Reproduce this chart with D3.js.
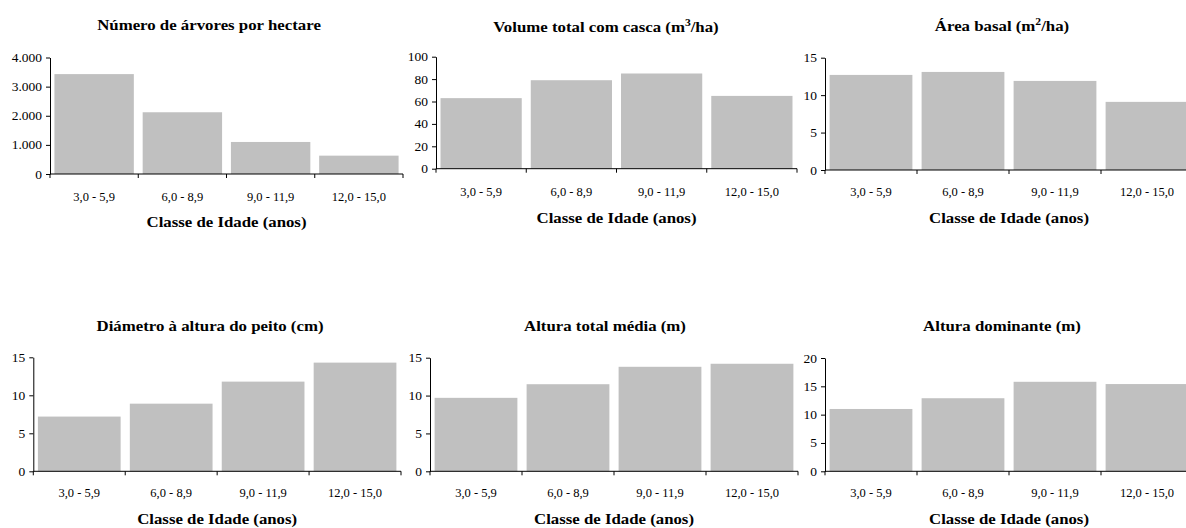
<!DOCTYPE html>
<html>
<head>
<meta charset="utf-8">
<script src="https://cdn.jsdelivr.net/npm/d3@7"></script>
<style>
  html, body { margin: 0; padding: 0; background: #fff; }
  svg { display: block; }
  text { font-family: "Liberation Serif", "Times New Roman", serif; fill: #000; }
</style>
</head>
<body>
<svg id="chart" width="1186" height="528"></svg>
<script>
// Age classes shared by all six panels
const categories = ["3,0 - 5,9", "6,0 - 8,9", "9,0 - 11,9", "12,0 - 15,0"];

// Values per age class for each stand variable
const treesPerHa   = [3430, 2120, 1100, 630];
const volumeWithBark = [63, 79, 85, 65];
const basalArea    = [12.7, 13.1, 11.9, 9.1];
const dbh          = [7.2, 8.9, 11.8, 14.3];
const meanHeight   = [9.7, 11.5, 13.8, 14.2];
const dominantHeight = [11.0, 12.9, 15.8, 15.4];

// Y-axis tick values for each panel
const ticksTrees  = [0, 1000, 2000, 3000, 4000];
const ticksVolume = [0, 20, 40, 60, 80, 100];
const ticks15     = [0, 5, 10, 15];
const ticks20     = [0, 5, 10, 15, 20];

const xTitle = "Classe de Idade (anos)";

const ptBR = d3.formatLocale({ decimal: ",", thousands: ".", grouping: [3], currency: ["R$", ""] });
const fmtThousands = ptBR.format(",d");
const fmtPlain = d3.format("d");

// Panel definitions: title pieces (superscripts flagged), data, axis, frame
const panels = [
  { title: [["Número de árvores por hectare"]], values: treesPerHa, ticks: ticksTrees, fmt: fmtThousands,
    x0: 50, x1: 403, yTop: 57.5, yBase: 174, titleX: 209, titleY: 30, labelY: 201, xTitleY: 227 },
  { title: [["Volume total com casca (m"], ["3", true], ["/ha)"]], values: volumeWithBark, ticks: ticksVolume, fmt: fmtPlain,
    x0: 436, x1: 797, yTop: 56.7, yBase: 168.7, titleX: 606, titleY: 32, labelY: 196, xTitleY: 223 },
  { title: [["Área basal (m"], ["2", true], ["/ha)"]], values: basalArea, ticks: ticks15, fmt: fmtPlain,
    x0: 825, x1: 1193, yTop: 57.7, yBase: 170, titleX: 1002, titleY: 31, labelY: 196, xTitleY: 223 },
  { title: [["Diámetro à altura do peito (cm)"]], values: dbh, ticks: ticks15, fmt: fmtPlain,
    x0: 33.3, x1: 401, yTop: 357.3, yBase: 471.3, titleX: 210, titleY: 331, labelY: 497, xTitleY: 524 },
  { title: [["Altura total média (m)"]], values: meanHeight, ticks: ticks15, fmt: fmtPlain,
    x0: 430, x1: 798, yTop: 357.7, yBase: 471.3, titleX: 605, titleY: 331, labelY: 497, xTitleY: 524 },
  { title: [["Altura dominante (m)"]], values: dominantHeight, ticks: ticks20, fmt: fmtPlain,
    x0: 825, x1: 1193, yTop: 358, yBase: 471.3, titleX: 1002, titleY: 331, labelY: 497, xTitleY: 524 }
];

const BAR = "#c0c0c0";
const AXIS = "#000";
const TICK_FONT = "12.5px";
const YTICK_SX = 1.08;  // horizontal stretch of value labels
const XTICK_SX = 1.0;   // horizontal stretch of class labels
const TITLE_SX = 1.16;  // horizontal stretch of titles
const XTITLE_SX = 1.2;  // horizontal stretch of the axis title

const svg = d3.select("#chart");

panels.forEach(p => {
  const g = svg.append("g");

  const x = d3.scaleBand().domain(categories).range([p.x0, p.x1])
    .paddingInner(0.1).paddingOuter(0.05);
  const y = d3.scaleLinear().domain([0, d3.max(p.ticks)]).range([p.yBase, p.yTop]);

  // Bars
  g.selectAll("rect.bar").data(p.values).join("rect")
    .attr("class", "bar")
    .attr("x", (d, i) => x(categories[i]))
    .attr("width", x.bandwidth())
    .attr("y", d => y(d))
    .attr("height", d => y(0) - y(d))
    .attr("fill", BAR);

  // Y axis
  const yAxis = g.append("g")
    .attr("transform", `translate(${p.x0},0)`)
    .call(d3.axisLeft(y).tickValues(p.ticks).tickFormat(p.fmt).tickSize(4).tickPadding(4).tickSizeOuter(0));
  yAxis.attr("font-family", null);
  yAxis.select(".domain").attr("stroke", AXIS);
  yAxis.selectAll(".tick line").attr("stroke", AXIS);
  yAxis.selectAll(".tick text")
    .style("font-size", TICK_FONT)
    .attr("fill", "#000")
    .attr("x", -8 / YTICK_SX)
    .attr("transform", `scale(${YTICK_SX},1)`);

  // X axis: baseline with tick marks at class boundaries
  const bounds = d3.range(categories.length + 1).map(i => x.range()[0] + i * x.step());
  g.append("line")
    .attr("x1", p.x0).attr("x2", p.x1)
    .attr("y1", p.yBase).attr("y2", p.yBase)
    .attr("stroke", AXIS).attr("stroke-width", 1);
  g.selectAll("line.xtick").data(bounds).join("line")
    .attr("class", "xtick")
    .attr("x1", d => d).attr("x2", d => d)
    .attr("y1", p.yBase).attr("y2", p.yBase + 4)
    .attr("stroke", AXIS);

  // Class labels centred under each bar
  g.selectAll("g.xlab").data(categories).join("g")
    .attr("class", "xlab")
    .attr("transform", d => `translate(${x(d) + x.bandwidth() / 2},${p.labelY}) scale(${XTICK_SX},1)`)
    .append("text")
    .attr("text-anchor", "middle")
    .style("font-size", TICK_FONT)
    .text(d => d);

  // X axis title
  g.append("g")
    .attr("transform", `translate(${(p.x0 + p.x1) / 2},${p.xTitleY}) scale(${XTITLE_SX},1)`)
    .append("text")
    .attr("text-anchor", "middle")
    .style("font-size", "14px")
    .style("font-weight", "bold")
    .text(xTitle);

  // Panel title (with optional superscript)
  const t = g.append("g")
    .attr("transform", `translate(${p.titleX},${p.titleY}) scale(${TITLE_SX},1)`)
    .append("text")
    .attr("text-anchor", "middle")
    .style("font-size", "14.5px")
    .style("font-weight", "bold");
  p.title.forEach(([s, sup]) => {
    const ts = t.append("tspan").text(s);
    if (sup) ts.attr("dy", -6).style("font-size", "10px");
    else if (t.selectAll("tspan").size() > 1) ts.attr("dy", 6);
  });
});
</script>
</body>
</html>
